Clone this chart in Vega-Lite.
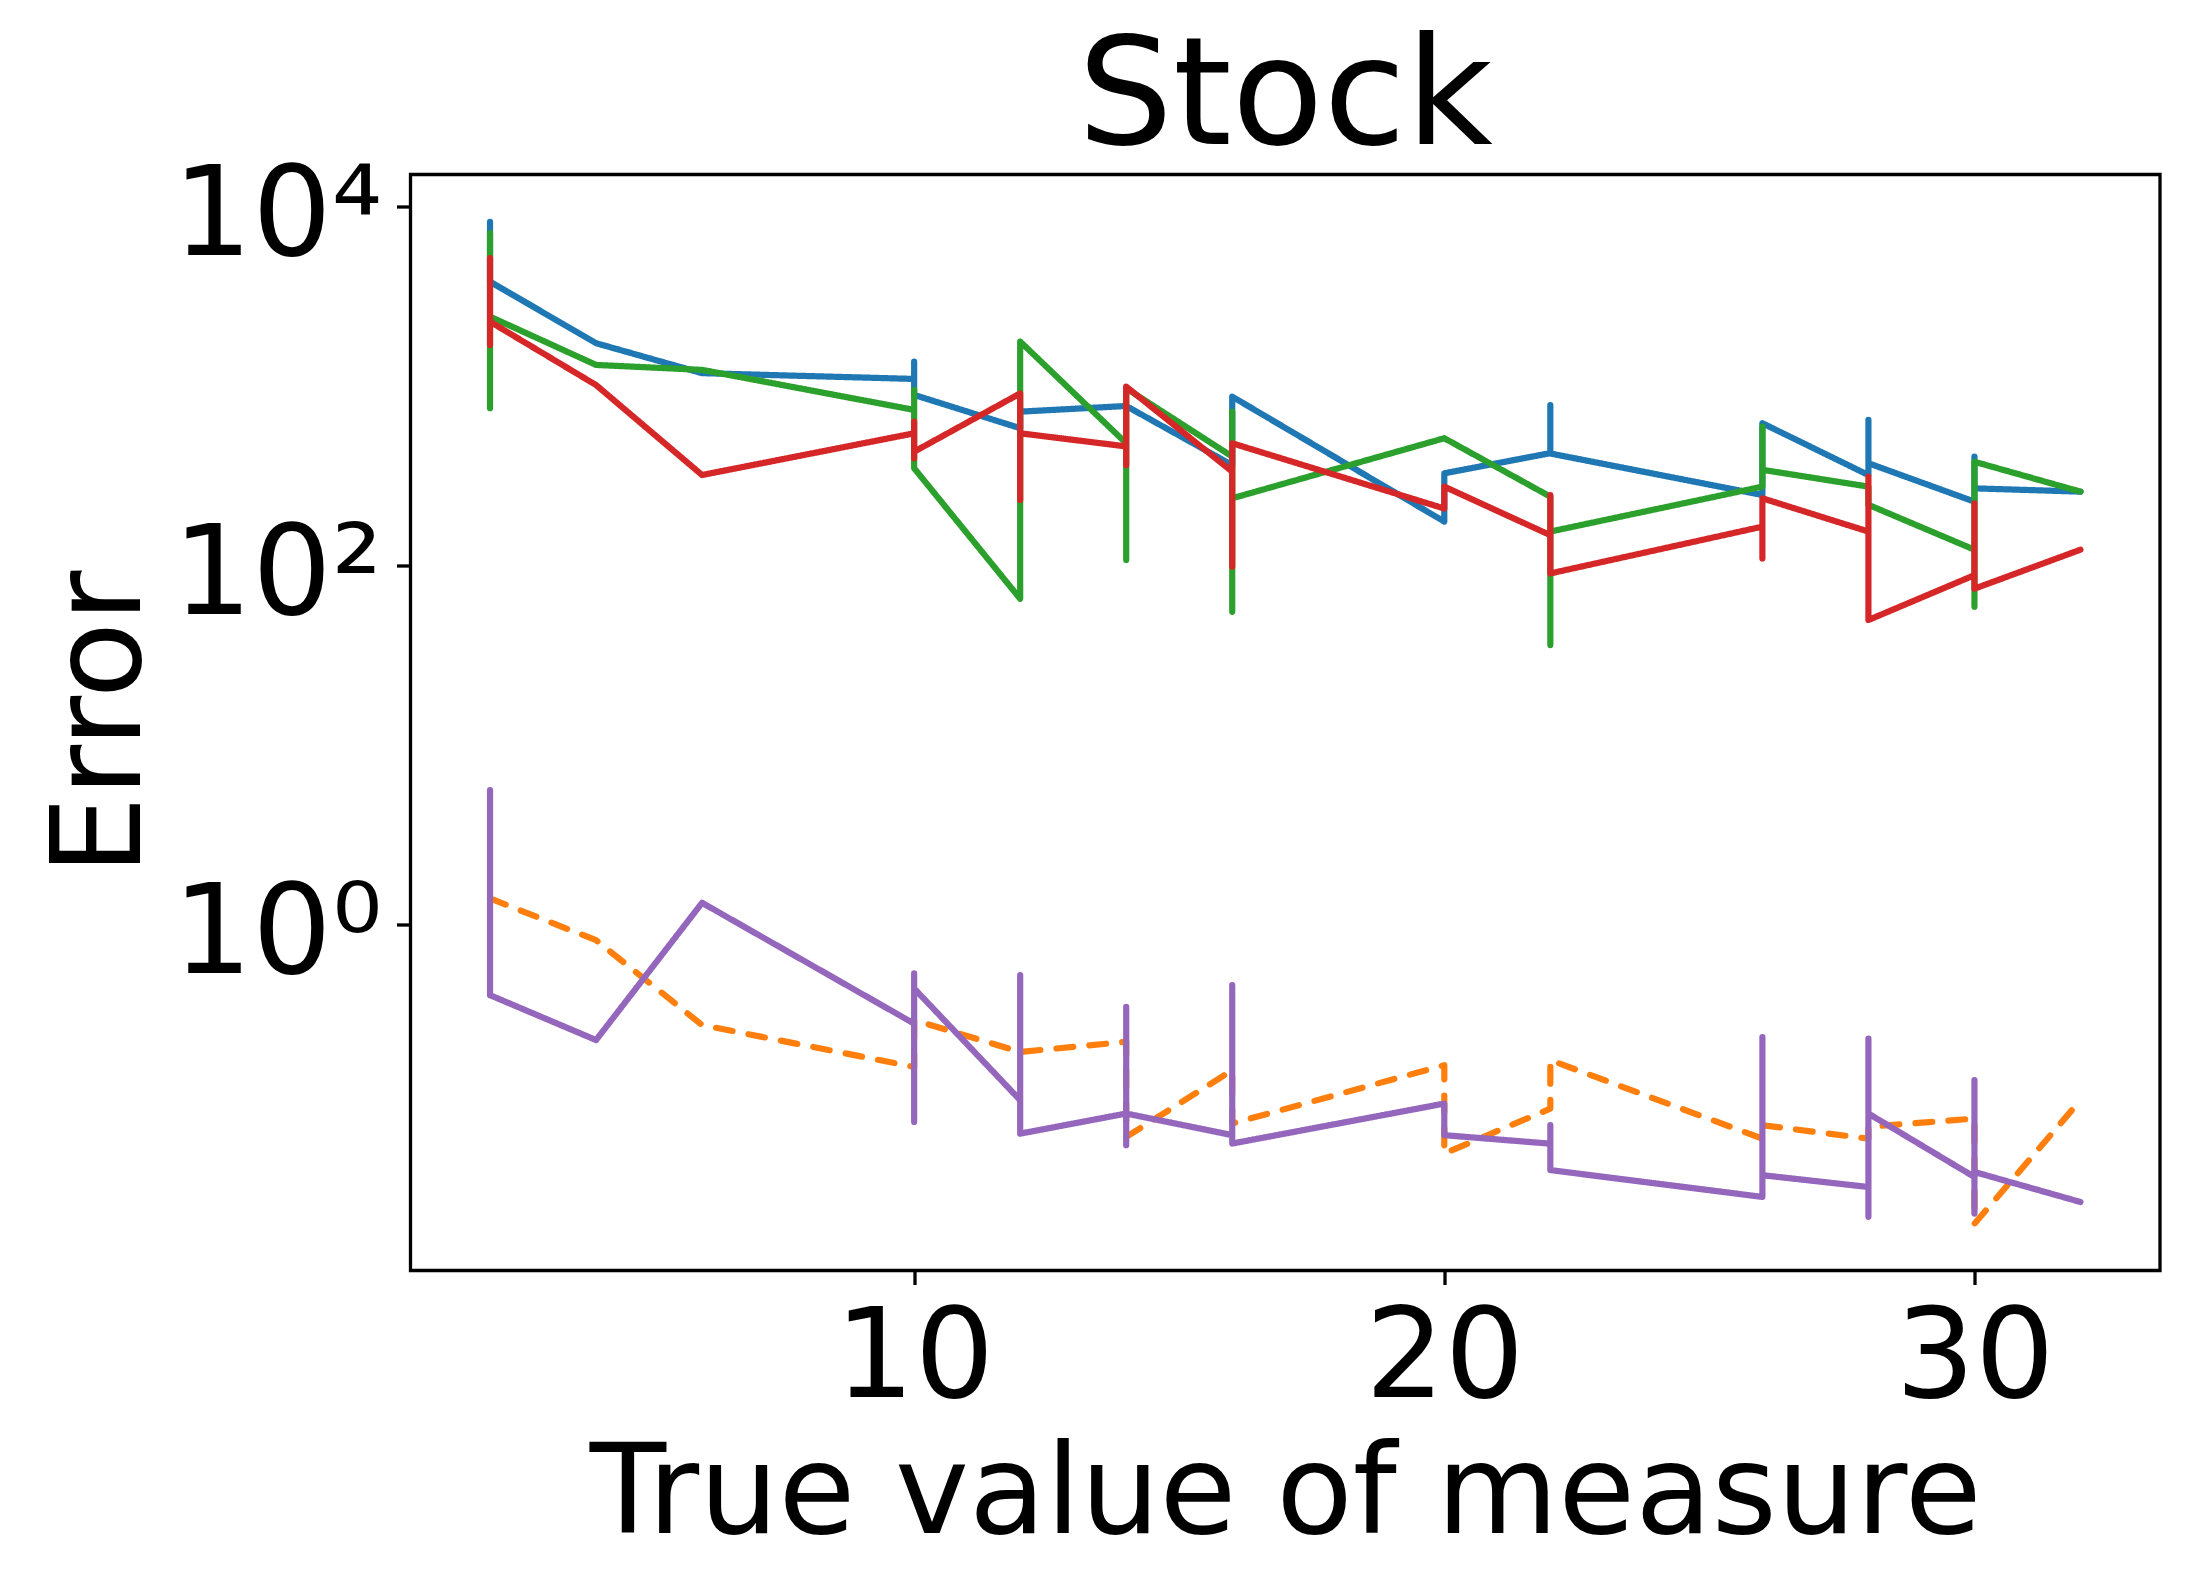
{
  "$schema": "https://vega.github.io/schema/vega-lite/v6.json",
  "width": 1749.5,
  "height": 1096,
  "autosize": "none",
  "padding": {"left": 410.5, "top": 174.5, "right": 30, "bottom": 318.5},
  "background": "white",
  "title": {
    "text": "Stock",
    "font": "DejaVu Sans",
    "fontSize": 150,
    "fontWeight": "normal",
    "color": "black",
    "anchor": "middle",
    "frame": "group",
    "offset": -21
  },
  "data": {
    "values": [
      {"s": "s1", "i": 1, "x": 2, "y": 8200},
      {"s": "s1", "i": 2, "x": 2, "y": 3800},
      {"s": "s1", "i": 3, "x": 4, "y": 1726},
      {"s": "s1", "i": 4, "x": 6, "y": 1175},
      {"s": "s1", "i": 5, "x": 10, "y": 1091},
      {"s": "s1", "i": 6, "x": 10, "y": 1362},
      {"s": "s1", "i": 7, "x": 10, "y": 889},
      {"s": "s1", "i": 8, "x": 12, "y": 580},
      {"s": "s1", "i": 9, "x": 12, "y": 717},
      {"s": "s1", "i": 10, "x": 14, "y": 771},
      {"s": "s1", "i": 11, "x": 16, "y": 361},
      {"s": "s1", "i": 12, "x": 16, "y": 869},
      {"s": "s1", "i": 13, "x": 20, "y": 175},
      {"s": "s1", "i": 14, "x": 20, "y": 325},
      {"s": "s1", "i": 15, "x": 22, "y": 421},
      {"s": "s1", "i": 16, "x": 22, "y": 780},
      {"s": "s1", "i": 17, "x": 22, "y": 419},
      {"s": "s1", "i": 18, "x": 26, "y": 246},
      {"s": "s1", "i": 19, "x": 26, "y": 618},
      {"s": "s1", "i": 20, "x": 28, "y": 318},
      {"s": "s1", "i": 21, "x": 28, "y": 645},
      {"s": "s1", "i": 22, "x": 28, "y": 370},
      {"s": "s1", "i": 23, "x": 30, "y": 226},
      {"s": "s1", "i": 24, "x": 30, "y": 403},
      {"s": "s1", "i": 25, "x": 30, "y": 268},
      {"s": "s1", "i": 26, "x": 32, "y": 257},

      {"s": "s2", "i": 1, "x": 2, "y": 1.39},
      {"s": "s2", "i": 2, "x": 4, "y": 0.814},
      {"s": "s2", "i": 3, "x": 6, "y": 0.274},
      {"s": "s2", "i": 4, "x": 10, "y": 0.160},
      {"s": "s2", "i": 5, "x": 10, "y": 0.292},
      {"s": "s2", "i": 6, "x": 12, "y": 0.194},
      {"s": "s2", "i": 7, "x": 14, "y": 0.221},
      {"s": "s2", "i": 8, "x": 14, "y": 0.0652},
      {"s": "s2", "i": 9, "x": 16, "y": 0.1535},
      {"s": "s2", "i": 10, "x": 16, "y": 0.0775},
      {"s": "s2", "i": 11, "x": 20, "y": 0.1637},
      {"s": "s2", "i": 12, "x": 20, "y": 0.0527},
      {"s": "s2", "i": 13, "x": 22, "y": 0.0938},
      {"s": "s2", "i": 14, "x": 22, "y": 0.1746},
      {"s": "s2", "i": 15, "x": 26, "y": 0.0638},
      {"s": "s2", "i": 16, "x": 26, "y": 0.0758},
      {"s": "s2", "i": 17, "x": 28, "y": 0.0638},
      {"s": "s2", "i": 18, "x": 28, "y": 0.0742},
      {"s": "s2", "i": 19, "x": 30, "y": 0.0826},
      {"s": "s2", "i": 20, "x": 30, "y": 0.0214},
      {"s": "s2", "i": 21, "x": 32, "y": 0.1045},

      {"s": "s3", "i": 1, "x": 2, "y": 7080},
      {"s": "s3", "i": 2, "x": 2, "y": 749},
      {"s": "s3", "i": 3, "x": 2, "y": 2427},
      {"s": "s3", "i": 4, "x": 4, "y": 1306},
      {"s": "s3", "i": 5, "x": 6, "y": 1225},
      {"s": "s3", "i": 6, "x": 10, "y": 733},
      {"s": "s3", "i": 7, "x": 10, "y": 947},
      {"s": "s3", "i": 8, "x": 10, "y": 347},
      {"s": "s3", "i": 9, "x": 12, "y": 65},
      {"s": "s3", "i": 10, "x": 12, "y": 1762},
      {"s": "s3", "i": 11, "x": 14, "y": 478},
      {"s": "s3", "i": 12, "x": 14, "y": 107},
      {"s": "s3", "i": 13, "x": 14, "y": 967},
      {"s": "s3", "i": 14, "x": 16, "y": 403},
      {"s": "s3", "i": 15, "x": 16, "y": 717},
      {"s": "s3", "i": 16, "x": 16, "y": 55},
      {"s": "s3", "i": 17, "x": 16, "y": 236},
      {"s": "s3", "i": 18, "x": 20, "y": 510},
      {"s": "s3", "i": 19, "x": 22, "y": 241},
      {"s": "s3", "i": 20, "x": 22, "y": 35.9},
      {"s": "s3", "i": 21, "x": 22, "y": 154},
      {"s": "s3", "i": 22, "x": 26, "y": 274},
      {"s": "s3", "i": 23, "x": 26, "y": 592},
      {"s": "s3", "i": 24, "x": 26, "y": 340},
      {"s": "s3", "i": 25, "x": 28, "y": 274},
      {"s": "s3", "i": 26, "x": 28, "y": 217},
      {"s": "s3", "i": 27, "x": 30, "y": 122},
      {"s": "s3", "i": 28, "x": 30, "y": 58.7},
      {"s": "s3", "i": 29, "x": 30, "y": 377},
      {"s": "s3", "i": 30, "x": 32, "y": 257},

      {"s": "s4", "i": 1, "x": 2, "y": 5140},
      {"s": "s4", "i": 2, "x": 2, "y": 1687},
      {"s": "s4", "i": 3, "x": 2, "y": 2275},
      {"s": "s4", "i": 4, "x": 4, "y": 1009},
      {"s": "s4", "i": 5, "x": 6, "y": 318},
      {"s": "s4", "i": 6, "x": 10, "y": 543},
      {"s": "s4", "i": 7, "x": 10, "y": 631},
      {"s": "s4", "i": 8, "x": 10, "y": 394},
      {"s": "s4", "i": 9, "x": 10, "y": 429},
      {"s": "s4", "i": 10, "x": 12, "y": 906},
      {"s": "s4", "i": 11, "x": 12, "y": 231},
      {"s": "s4", "i": 12, "x": 12, "y": 543},
      {"s": "s4", "i": 13, "x": 14, "y": 459},
      {"s": "s4", "i": 14, "x": 14, "y": 361},
      {"s": "s4", "i": 15, "x": 14, "y": 988},
      {"s": "s4", "i": 16, "x": 16, "y": 332},
      {"s": "s4", "i": 17, "x": 16, "y": 98},
      {"s": "s4", "i": 18, "x": 16, "y": 478},
      {"s": "s4", "i": 19, "x": 20, "y": 207},
      {"s": "s4", "i": 20, "x": 20, "y": 274},
      {"s": "s4", "i": 21, "x": 22, "y": 147},
      {"s": "s4", "i": 22, "x": 22, "y": 246},
      {"s": "s4", "i": 23, "x": 22, "y": 90},
      {"s": "s4", "i": 24, "x": 26, "y": 164},
      {"s": "s4", "i": 25, "x": 26, "y": 109},
      {"s": "s4", "i": 26, "x": 26, "y": 236},
      {"s": "s4", "i": 27, "x": 28, "y": 154},
      {"s": "s4", "i": 28, "x": 28, "y": 312},
      {"s": "s4", "i": 29, "x": 28, "y": 49.5},
      {"s": "s4", "i": 30, "x": 30, "y": 88},
      {"s": "s4", "i": 31, "x": 30, "y": 221},
      {"s": "s4", "i": 32, "x": 30, "y": 74},
      {"s": "s4", "i": 33, "x": 32, "y": 122},

      {"s": "s5", "i": 1, "x": 2, "y": 5.58},
      {"s": "s5", "i": 2, "x": 2, "y": 0.402},
      {"s": "s5", "i": 3, "x": 4, "y": 0.226},
      {"s": "s5", "i": 4, "x": 6, "y": 1.315},
      {"s": "s5", "i": 5, "x": 10, "y": 0.279},
      {"s": "s5", "i": 6, "x": 10, "y": 0.079},
      {"s": "s5", "i": 7, "x": 10, "y": 0.531},
      {"s": "s5", "i": 8, "x": 10, "y": 0.438},
      {"s": "s5", "i": 9, "x": 12, "y": 0.1045},
      {"s": "s5", "i": 10, "x": 12, "y": 0.52},
      {"s": "s5", "i": 11, "x": 12, "y": 0.068},
      {"s": "s5", "i": 12, "x": 14, "y": 0.088},
      {"s": "s5", "i": 13, "x": 14, "y": 0.346},
      {"s": "s5", "i": 14, "x": 14, "y": 0.0586},
      {"s": "s5", "i": 15, "x": 14, "y": 0.088},
      {"s": "s5", "i": 16, "x": 16, "y": 0.0667},
      {"s": "s5", "i": 17, "x": 16, "y": 0.457},
      {"s": "s5", "i": 18, "x": 16, "y": 0.0599},
      {"s": "s5", "i": 19, "x": 20, "y": 0.1},
      {"s": "s5", "i": 20, "x": 20, "y": 0.0667},
      {"s": "s5", "i": 21, "x": 22, "y": 0.0598},
      {"s": "s5", "i": 22, "x": 22, "y": 0.0758},
      {"s": "s5", "i": 23, "x": 22, "y": 0.0426},
      {"s": "s5", "i": 24, "x": 26, "y": 0.0302},
      {"s": "s5", "i": 25, "x": 26, "y": 0.235},
      {"s": "s5", "i": 26, "x": 26, "y": 0.0399},
      {"s": "s5", "i": 27, "x": 28, "y": 0.0343},
      {"s": "s5", "i": 28, "x": 28, "y": 0.2306},
      {"s": "s5", "i": 29, "x": 28, "y": 0.0234},
      {"s": "s5", "i": 30, "x": 28, "y": 0.088},
      {"s": "s5", "i": 31, "x": 30, "y": 0.039},
      {"s": "s5", "i": 32, "x": 30, "y": 0.135},
      {"s": "s5", "i": 33, "x": 30, "y": 0.0244},
      {"s": "s5", "i": 34, "x": 30, "y": 0.0416},
      {"s": "s5", "i": 35, "x": 32, "y": 0.0283}
    ]
  },
  "mark": {"type": "line", "strokeWidth": 6.2, "strokeCap": "round", "strokeJoin": "round"},
  "encoding": {
    "x": {
      "field": "x",
      "type": "quantitative",
      "scale": {"domain": [0.5, 33.5], "nice": false, "zero": false},
      "axis": {
        "title": "True value of measure",
        "values": [10, 20, 30],
        "format": "d",
        "labelPadding": 13,
        "titlePadding": 12
      }
    },
    "y": {
      "field": "y",
      "type": "quantitative",
      "scale": {"type": "log", "domain": [0.01175, 15030], "nice": false},
      "axis": {
        "title": "Error",
        "values": [1, 100, 10000],
        "labelExpr": "datum.value == 1 ? '10⁰' : datum.value == 100 ? '10²' : '10⁴'",
        "labelPadding": 15,
        "labelOffset": 10,
        "titlePadding": 45
      }
    },
    "color": {
      "field": "s",
      "type": "nominal",
      "scale": {
        "domain": ["s1", "s2", "s3", "s4", "s5"],
        "range": ["#1f77b4", "#ff7f0e", "#2ca02c", "#d62728", "#9467bd"]
      },
      "legend": null
    },
    "strokeDash": {
      "field": "s",
      "type": "nominal",
      "scale": {
        "domain": ["s1", "s2", "s3", "s4", "s5"],
        "range": [[1, 0], [16.8, 16.2], [1, 0], [1, 0], [1, 0]]
      },
      "legend": null
    },
    "order": {"field": "i", "type": "quantitative"}
  },
  "config": {
    "view": {"stroke": "black", "strokeWidth": 3.3},
    "axis": {
      "grid": false,
      "domain": false,
      "ticks": true,
      "tickColor": "black",
      "tickWidth": 3.3,
      "tickSize": 14,
      "labelFont": "DejaVu Sans",
      "labelFontSize": 125,
      "labelColor": "black",
      "labelLimit": 600,
      "labelFlush": false,
      "labelOverlap": false,
      "titleFont": "DejaVu Sans",
      "titleFontSize": 125,
      "titleFontWeight": "normal",
      "titleColor": "black"
    }
  }
}
